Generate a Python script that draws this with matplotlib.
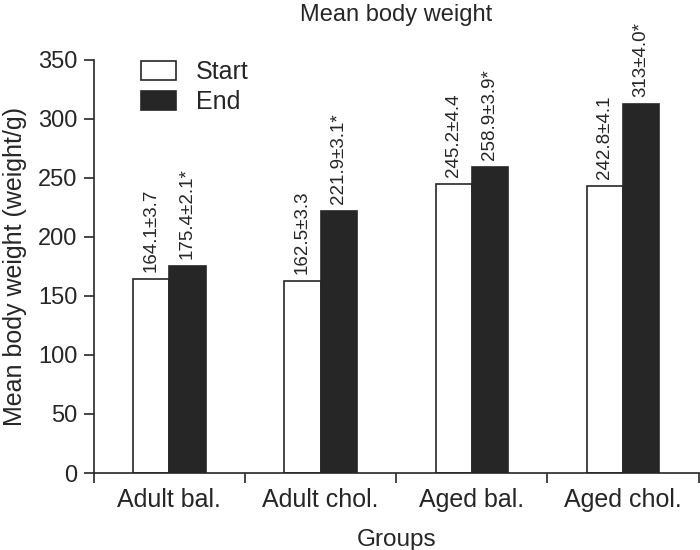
import matplotlib.pyplot as plt
import numpy as np

plt.rcParams['font.family'] = ['Liberation Sans', 'DejaVu Sans']

groups = ['Adult bal.', 'Adult chol.', 'Aged bal.', 'Aged chol.']
start = [164.1, 162.5, 245.2, 242.8]
end = [175.4, 221.9, 258.9, 313.0]
start_labels = ['164.1\u00b13.7', '162.5\u00b13.3', '245.2\u00b14.4', '242.8\u00b14.1']
end_labels = ['175.4\u00b12.1*', '221.9\u00b13.1*', '258.9\u00b13.9*', '313\u00b14.0*']
yticks = [0, 50, 100, 150, 200, 250, 300, 350]

ink = '#262626'

fig = plt.figure(figsize=(7, 5.5), dpi=100)
ax = fig.add_axes([0.134, 0.14, 0.864, 0.751])

x = np.arange(len(groups))
w = 0.24
ax.bar(x - w / 2, start, w, color='white', edgecolor=ink, linewidth=1.2, label='Start')
ax.bar(x + w / 2, end, w, color=ink, edgecolor=ink, linewidth=1.2, label='End')

for i in range(len(groups)):
    ax.text(x[i] - w / 2, start[i] + 6, start_labels[i], rotation=90, ha='center', va='bottom',
            fontsize=13.5, color=ink)
    ax.text(x[i] + w / 2, end[i] + 6, end_labels[i], rotation=90, ha='center', va='bottom',
            fontsize=13.5, color=ink)

ax.set_xlim(-0.5, len(groups) - 0.5)
ax.set_ylim(0, 350)
ax.set_yticks(yticks)
ax.set_xticks(np.arange(len(groups) + 1) - 0.5)
ax.set_xticklabels([])
ax.set_xticks(x, minor=True)
ax.set_xticklabels(groups, minor=True, fontsize=18, color=ink)
ax.tick_params(axis='x', which='minor', length=0, pad=11)
ax.tick_params(axis='x', which='major', length=7, width=1.2, direction='out', color=ink)
ax.tick_params(axis='y', length=7, width=1.2, labelsize=17, pad=5, color=ink, labelcolor=ink)

for spine in ['top', 'right']:
    ax.spines[spine].set_visible(False)
for spine in ['left', 'bottom']:
    ax.spines[spine].set_linewidth(1.2)
    ax.spines[spine].set_color(ink)

ax.set_ylabel('Mean body weight (weight/g)', fontsize=18, labelpad=8, color=ink)
ax.set_xlabel('Groups', fontsize=17.5, labelpad=12, color=ink)
ax.set_title('Mean body weight', fontsize=17, pad=28, color=ink)

ax.legend(loc='upper left', bbox_to_anchor=(0.0777, 1.0), frameon=False, fontsize=18,
          borderaxespad=0, borderpad=0, handlelength=1.4, handleheight=0.8,
          labelspacing=0.25, handletextpad=0.8, labelcolor=ink)

plt.savefig('out.png', dpi=100)
